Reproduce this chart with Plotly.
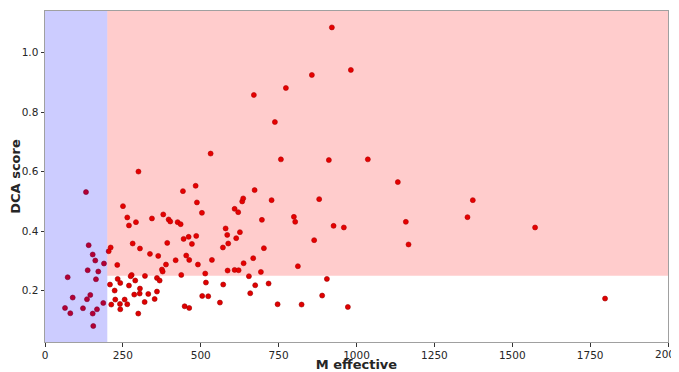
import plotly.graph_objects as go

# M effective values
m_eff = [
    140.2, 153.1, 161.4, 189.3, 137.0, 171.0, 72.8, 163.6, 145.4, 88.9,
    134.8, 187.1, 64.2, 121.9, 166.9, 81.2, 153.1, 155.0, 131.6,
    250.3, 264.1, 292.0, 269.5, 343.3, 379.6, 281.4, 304.8, 210.8, 204.4,
    336.9, 363.5, 232.0, 375.4, 377.7, 278.2, 275.0, 320.9, 359.4, 368.0,
    233.3, 289.7, 241.6, 208.6, 269.5, 304.8, 223.6, 359.4, 286.5, 303.9,
    331.5, 352.0, 225.6, 255.7, 319.9, 212.7, 240.7, 264.1, 241.6, 299.4,
    300.0,
    487.7, 633.1, 636.3, 503.8, 608.7, 620.2, 396.9, 402.1, 425.8, 435.4,
    696.3, 579.8, 625.7, 461.1, 485.5, 585.0, 445.0, 613.8, 392.4, 471.7,
    588.2, 571.1, 702.7, 453.4, 463.0, 419.4, 535.9, 668.4, 388.3, 490.9,
    637.6, 586.2, 608.7, 621.5, 693.1, 437.4, 514.4, 654.6, 516.6, 572.1,
    674.8, 717.8, 658.8, 504.7, 524.0, 561.5, 448.3, 463.0,
    531.7, 483.6, 442.8, 672.9, 757.3, 911.3, 1036.4, 727.4, 880.2, 799.0,
    803.2, 926.4, 959.4, 864.1, 811.8, 904.9, 889.8, 746.7, 823.7, 972.3,
    1132.7, 1373.4, 1158.4, 1356.3, 1167.0, 1573.3, 1797.9,
    920.9, 981.9, 856.7, 773.3, 670.6, 738.0,
]

# DCA score values
dca_score = [
    0.3525, 0.3212, 0.301, 0.2909, 0.2683, 0.264, 0.2448, 0.238, 0.1852, 0.1764,
    0.1707, 0.1582, 0.1414, 0.1404, 0.137, 0.1236, 0.1226, 0.0808, 0.531,
    0.4838, 0.4458, 0.43, 0.4189, 0.4424, 0.4559, 0.3582, 0.3414, 0.3448, 0.3323,
    0.3232, 0.3165, 0.2862, 0.2707, 0.264, 0.2525, 0.2481, 0.2492, 0.2424, 0.2337,
    0.2391, 0.2337, 0.2256, 0.2202, 0.2168, 0.2067, 0.2, 0.1966, 0.1865, 0.1899,
    0.1886, 0.1717, 0.1697, 0.1697, 0.1616, 0.1529, 0.1549, 0.1539, 0.137, 0.1226,
    0.6,
    0.4963, 0.4997, 0.5098, 0.4613, 0.4747, 0.4636, 0.439, 0.4323, 0.43, 0.4232,
    0.4377, 0.4088, 0.3963, 0.3805, 0.3838, 0.3872, 0.3737, 0.3761, 0.3603, 0.3569,
    0.3582, 0.3448, 0.3424, 0.3178, 0.303, 0.302, 0.303, 0.3088, 0.2875, 0.2875,
    0.2919, 0.2673, 0.2694, 0.2684, 0.2626, 0.2525, 0.2572, 0.2481, 0.2269, 0.2202,
    0.2178, 0.2236, 0.1909, 0.1818, 0.1808, 0.1596, 0.1471, 0.1414,
    0.6606, 0.5522, 0.5343, 0.5377, 0.6411, 0.6387, 0.6411, 0.504, 0.5074, 0.4478,
    0.431, 0.4175, 0.4121, 0.3694, 0.2818, 0.2391, 0.1832, 0.1539, 0.1529, 0.1448,
    0.5646, 0.504, 0.431, 0.4468, 0.3549, 0.4121, 0.1731,
    1.0848, 0.9418, 0.9249, 0.8811, 0.8576, 0.7667,
]

m_cutoff = 200
score_cutoff = 0.25
x_ticks = [0, 250, 500, 750, 1000, 1250, 1500, 1750, 2000]
x_ticklabels = ["0", "250", "500", "750", "1000", "1250", "1500", "1750", ""]
last_x_label = "2000"
y_ticks = [0.2, 0.4, 0.6, 0.8, 1.0]

FONT = "DejaVu Sans"
TICKFONT = dict(family=FONT, size=10.5, color="#262626")

fig = go.Figure()
fig.add_trace(go.Scatter(
    x=m_eff, y=dca_score, mode="markers",
    marker=dict(size=5, color="#e00000", line=dict(width=0.6, color="#a00000")),
    showlegend=False, hoverinfo="x+y",
))

fig.add_shape(type="rect", xref="x", yref="y domain", x0=0, x1=m_cutoff, y0=0, y1=1,
              fillcolor="#0000ff", opacity=0.2, line_width=0, layer="above")
fig.add_shape(type="rect", xref="x domain", yref="y", x0=0.1, x1=1, y0=score_cutoff, y1=1.14,
              fillcolor="#ff0000", opacity=0.2, line_width=0, layer="above")

axis_common = dict(
    showgrid=False, zeroline=False, showline=True, linecolor="#a0a0a0", linewidth=1,
    mirror=True, ticks="outside", ticklen=3.5, tickwidth=0.8, tickcolor="#333333",
    tickfont=TICKFONT,
)

fig.update_xaxes(range=[0, 2000], tickvals=x_ticks, ticktext=x_ticklabels,
                 title=dict(text="<b>M effective</b>", font=dict(family=FONT, size=13, color="#262626"), standoff=9),
                 **axis_common)
fig.update_yaxes(range=[0.027, 1.14], tickvals=y_ticks, tickformat=".1f",
                 title=dict(text="<b>DCA score</b>", font=dict(family=FONT, size=13, color="#262626"), standoff=6),
                 **axis_common)

# last x tick label sits at the page edge (Plotly would hide it as a tick label)
fig.add_annotation(x=x_ticks[-1], xref="x", y=0, yref="paper", text=last_x_label,
                   showarrow=False, xanchor="center", yanchor="top", yshift=-4,
                   font=TICKFONT)

# The page body adds an 8 px offset; size the figure so the plot area lands where the reference has it.
fig.update_layout(
    width=671, height=364,
    margin=dict(l=37, r=11, t=3, b=30, autoexpand=False),
    plot_bgcolor="white", paper_bgcolor="white",
    font=dict(family=FONT),
)

fig.write_html("out.html")
